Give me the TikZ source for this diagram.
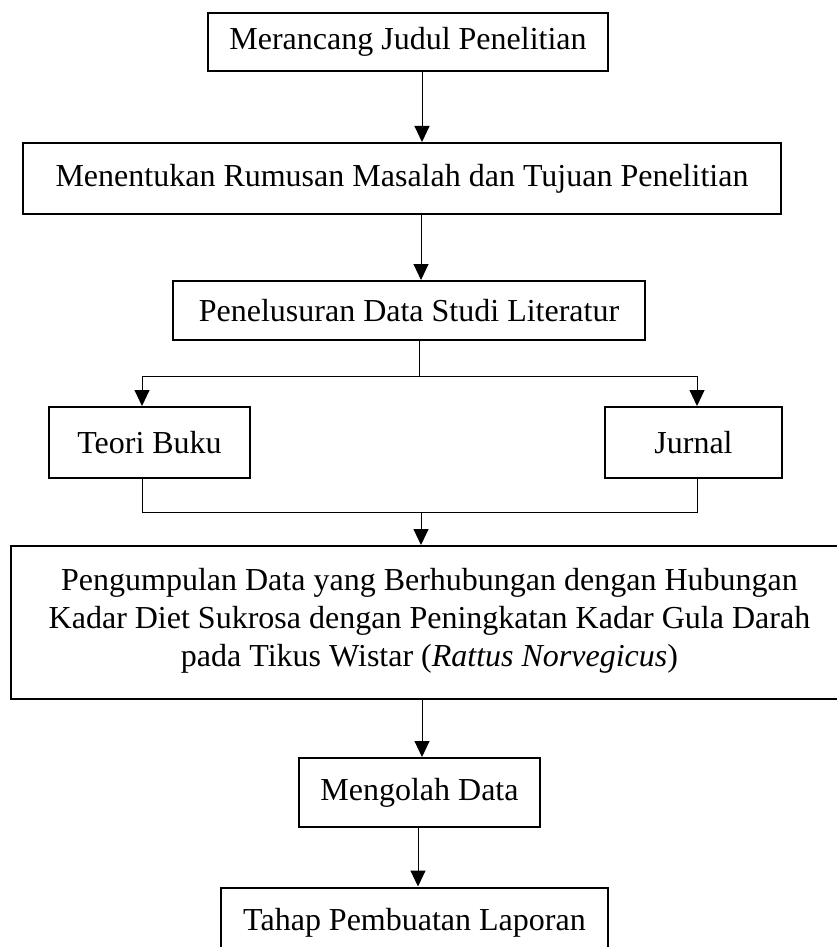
\documentclass[tikz,border=0pt]{standalone}
\usepackage{fontspec}
\setmainfont{Liberation Serif}
\usetikzlibrary{arrows.meta}
\begin{document}
\begin{tikzpicture}[x=1pt,y=-1pt,
  box/.style={draw, line width=2pt, inner sep=0pt, font=\fontsize{32}{38}\selectfont, align=center},
  conn/.style={line width=1pt},
  arr/.style={conn, -{Triangle[width=15pt,length=16pt]}}]
\useasboundingbox (0,0) rectangle (837,947);
\fill[white] (0,0) rectangle (837,947);
\begin{scope}
\clip (0,0) rectangle (837,947);
\node[box, minimum width=400pt, minimum height=58pt] (b1) at (408,42) {Merancang Judul Penelitian};
\node[box, minimum width=758pt, minimum height=71pt] (b2) at (402,178.5) {Menentukan Rumusan Masalah dan Tujuan Penelitian};
\node[box, minimum width=472pt, minimum height=59pt] (b3) at (409,310.5) {Penelusuran Data Studi Literatur};
\node[box, minimum width=201pt, minimum height=71pt] (teori) at (149.5,442.5) {Teori Buku};
\node[box, minimum width=177pt, minimum height=71pt] (jurnal) at (693.5,442.5) {Jurnal};
\node[box, minimum width=837pt, minimum height=153pt] (b4) at (429.5,622.5) {Pengumpulan Data yang Berhubungan dengan Hubungan\\ Kadar Diet Sukrosa dengan Peningkatan Kadar Gula Darah\\ pada Tikus Wistar (\textit{Rattus Norvegicus})\rule[-11pt]{0pt}{0pt}};
\node[box, minimum width=241pt, minimum height=69pt] (b5) at (419.5,792.5) {Mengolah Data};
\node[box, minimum width=387pt, minimum height=71pt] (b6) at (414.5,923) {Tahap Pembuatan Laporan};
\coordinate (x1) at (422,0);
\coordinate (x2) at (421,0);
\coordinate (tx) at (142,0);
\coordinate (jx) at (697,0);
\coordinate (sp) at (419,376);
\coordinate (mp) at (421,512);
\coordinate (x4) at (422,0);
\coordinate (x5) at (418,0);
\draw[arr] (b1.south -| x1) -- (b2.north -| x1);
\draw[arr] (b2.south -| x2) -- (b3.north -| x2);
\draw[conn] (b3.south -| sp) -- (sp);
\draw[arr] (sp) -- (sp -| tx) -- (teori.north -| tx);
\draw[arr] (sp) -- (sp -| jx) -- (jurnal.north -| jx);
\draw[conn] (teori.south -| tx) -- (mp -| tx) -- (mp -| jx) -- (jurnal.south -| jx);
\draw[arr] (mp) -- (b4.north -| mp);
\draw[arr] (b4.south -| x4) -- (b5.north -| x4);
\draw[arr] (b5.south -| x5) -- (b6.north -| x5);
\end{scope}
\end{tikzpicture}
\end{document}
